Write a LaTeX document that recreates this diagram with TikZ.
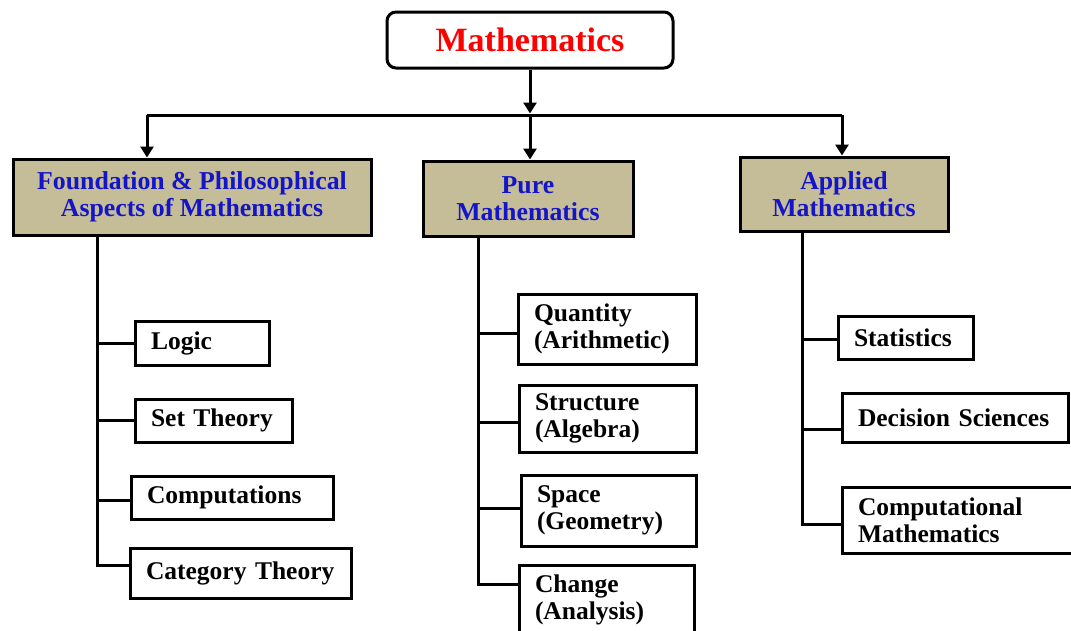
\documentclass[tikz,border=0pt]{standalone}
\usepackage{fontspec}
\setmainfont{Liberation Serif}
\usetikzlibrary{positioning, arrows.meta}
\definecolor{areatan}{RGB}{196,189,151}
\definecolor{areablue}{RGB}{20,20,200}
\tikzset{>={Triangle[width=13pt,length=11pt]}}
\tikzset{
    root/.style = {rectangle, rounded corners=9pt, draw, line width=3pt, minimum width=286pt,
                        minimum height=56pt, text=red, font=\fontsize{34}{36}\selectfont\bfseries},
    area/.style = {rectangle, draw, fill=areatan, line width=3pt, align=center, text=areablue,
                        font=\fontsize{25.8}{27}\selectfont\bfseries},
    topic/.style = {rectangle, draw, line width=3pt, align=left, inner xsep=16pt,
                        font=\fontsize{25.5}{27}\selectfont\bfseries},
    link/.style = {line width=3pt}
}

\begin{document}
\begin{tikzpicture}[x=1pt, y=-1pt]
		\clip (0,0) rectangle (1071,630);
		\node (math) [root] at (530,40) {Mathematics};
		\node (found) [area, minimum width=358pt, minimum height=76pt] at (192,197) {Foundation \& Philosophical\\Aspects of Mathematics};
		\node (pure) [area, minimum width=210pt, minimum height=75pt] at (528,198.5) {Pure\\Mathematics};
		\node (applied) [area, minimum width=208pt, minimum height=74pt] at (844,194) {Applied\\Mathematics};
		\coordinate (barL) at (147,115);
		\coordinate (barM) at (530,115);
		\coordinate (barR) at (842,115);
		\draw [link, ->, shorten >=1.5pt] (math) -- (barM);
		\draw [link] (barL) -- (barR);
		\draw [link, ->] (barL) -- (barL |- found.north);
		\draw [link, ->] (barM) -- (barM |- pure.north);
		\draw [link, ->] (barR) -- (barR |- applied.north);

		\node (logic) [topic, text width=102pt, minimum height=44pt] at (202,343) {Logic};
		\node (sets) [topic, text width=125pt, minimum height=43pt] at (213.5,420.5) {Set Theory};
		\node (comp) [topic, text width=170pt, minimum height=43pt] at (232,497.5) {Computations};
		\node (cat) [topic, text width=189pt, minimum height=50pt] at (240.5,573) {Category Theory};
		\coordinate (fspine) at (97,0);
		\coordinate (compin) at ([yshift=-2.5pt]comp.west);
		\coordinate (catin) at ([yshift=8pt]cat.west);
		\draw [link] (fspine |- found.south) |- (catin);
		\draw [link] (fspine |- logic.west) -- (logic.west);
		\draw [link] (fspine |- sets.west) -- (sets.west);
		\draw [link] (fspine |- compin) -- (compin);

		\node (quant) [topic, text width=146pt, minimum height=70pt] at (607,329) {Quantity\\(Arithmetic)};
		\node (struct) [topic, text width=145pt, minimum height=67pt] at (607.5,418.5) {Structure\\(Algebra)};
		\node (space) [topic, text width=143pt, minimum height=71pt] at (608.5,510.5) {Space\\(Geometry)};
		\node (change) [topic, text width=143pt, minimum height=70pt] at (606.5,600) {Change\\(Analysis)};
		\coordinate (pspine) at (478,0);
		\coordinate (quantin) at ([yshift=-4pt]quant.west);
		\coordinate (structin) at ([yshift=-3.5pt]struct.west);
		\coordinate (spacein) at ([yshift=2.5pt]space.west);
		\coordinate (changein) at ([yshift=16pt]change.west);
		\draw [link] (pspine |- pure.south) |- (changein);
		\draw [link] (pspine |- quantin) -- (quantin);
		\draw [link] (pspine |- structin) -- (structin);
		\draw [link] (pspine |- spacein) -- (spacein);

		\node (stats) [topic, text width=103pt, minimum height=43pt] at (905.5,337.5) {Statistics};
		\node (decis) [topic, text width=194pt, minimum height=49pt] at (955,417.5) {Decision Sciences};
		\node (compmath) [topic, text width=204pt, minimum height=66pt] at (960,520) {Computational\\Mathematics};
		\coordinate (aspine) at (802,0);
		\coordinate (statsin) at ([yshift=-1.5pt]stats.west);
		\coordinate (decisin) at ([yshift=-11.5pt]decis.west);
		\coordinate (compmathin) at ([yshift=-4pt]compmath.west);
		\draw [link] (aspine |- applied.south) |- (compmathin);
		\draw [link] (aspine |- statsin) -- (statsin);
		\draw [link] (aspine |- decisin) -- (decisin);
	\end{tikzpicture}
\end{document}
